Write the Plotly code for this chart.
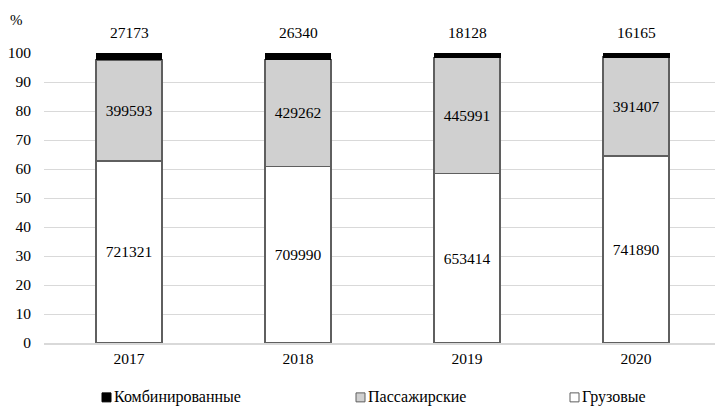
import plotly.graph_objects as go

# Vehicle counts by type and year
years = ["2017", "2018", "2019", "2020"]
cargo = [721321, 709990, 653414, 741890]        # Грузовые
passenger = [399593, 429262, 445991, 391407]    # Пассажирские
combined = [27173, 26340, 18128, 16165]         # Комбинированные

y_ticks = [0, 10, 20, 30, 40, 50, 60, 70, 80, 90, 100]

totals = [a + b + c for a, b, c in zip(cargo, passenger, combined)]


def pct(vals):
    return [v / t * 100 for v, t in zip(vals, totals)]


FONT = "Liberation Serif"
LEGEND_FONT = "Liberation Serif, DejaVu Serif, serif"
EDGE = "#5f5f5f"
FS = 15.5

fig = go.Figure()
fig.add_bar(x=years, y=pct(cargo), name="Грузовые",
            marker=dict(color="white", line=dict(color=EDGE, width=1.5)),
            text=[str(v) for v in cargo], textposition="inside",
            insidetextanchor="middle", textangle=0,
            textfont=dict(family=FONT, size=FS, color="black"))
fig.add_bar(x=years, y=pct(passenger), name="Пассажирские",
            marker=dict(color="#d0d0d0", line=dict(color=EDGE, width=1.5)),
            text=[str(v) for v in passenger], textposition="inside",
            insidetextanchor="middle", textangle=0,
            textfont=dict(family=FONT, size=FS, color="black"))
fig.add_bar(x=years, y=pct(combined), name="Комбинированные",
            marker=dict(color="black", line=dict(color="black", width=1)))

# combined counts shown above each bar (x given as category index)
for i, v in enumerate(combined):
    fig.add_annotation(xref="x", yref="y", x=i, y=100, text=str(v),
                       showarrow=False, yanchor="middle", yshift=21,
                       font=dict(family=FONT, size=FS, color="black"))

# axis unit
fig.add_annotation(xref="paper", yref="paper", x=-0.054, y=1.115, text="%",
                   showarrow=False, xanchor="left", yanchor="middle",
                   font=dict(family=FONT, size=15, color="black"))

# legend row
W, L = 715 - 44, 44
legend_items = [(102, "black", "black", "Комбинированные"),
                (356, "#d0d0d0", EDGE, "Пассажирские"),
                (570, "white", EDGE, "Грузовые")]
for px, fill, line, label in legend_items:
    fig.add_shape(type="rect", xref="paper", yref="paper",
                  x0=(px - L) / W, x1=(px + 9 - L) / W,
                  y0=-0.203, y1=-0.172,
                  fillcolor=fill, line=dict(color=line, width=1))
    fig.add_annotation(xref="paper", yref="paper", x=(px + 10 - L) / W,
                       y=-0.1875, text=label, showarrow=False,
                       xanchor="left", yanchor="middle",
                       font=dict(family=LEGEND_FONT, size=16, color="black"))

fig.update_layout(
    barmode="stack",
    bargap=0.61,
    width=715, height=411,
    margin=dict(l=44, r=0, t=53, b=68),
    plot_bgcolor="white", paper_bgcolor="white",
    showlegend=False,
    font=dict(family=FONT, size=FS, color="black"),
    xaxis=dict(type="category", range=[-0.503, 3.467], autorange=False,
               showgrid=False, showline=True,
               linecolor="#d9d9d9", linewidth=2, ticks=""),
    yaxis=dict(range=[0, 100], autorange=False, tickvals=y_ticks,
               showgrid=True, gridcolor="#d9d9d9", gridwidth=1,
               zeroline=False, ticklabelstandoff=12),
)

fig.write_html("out.html")
